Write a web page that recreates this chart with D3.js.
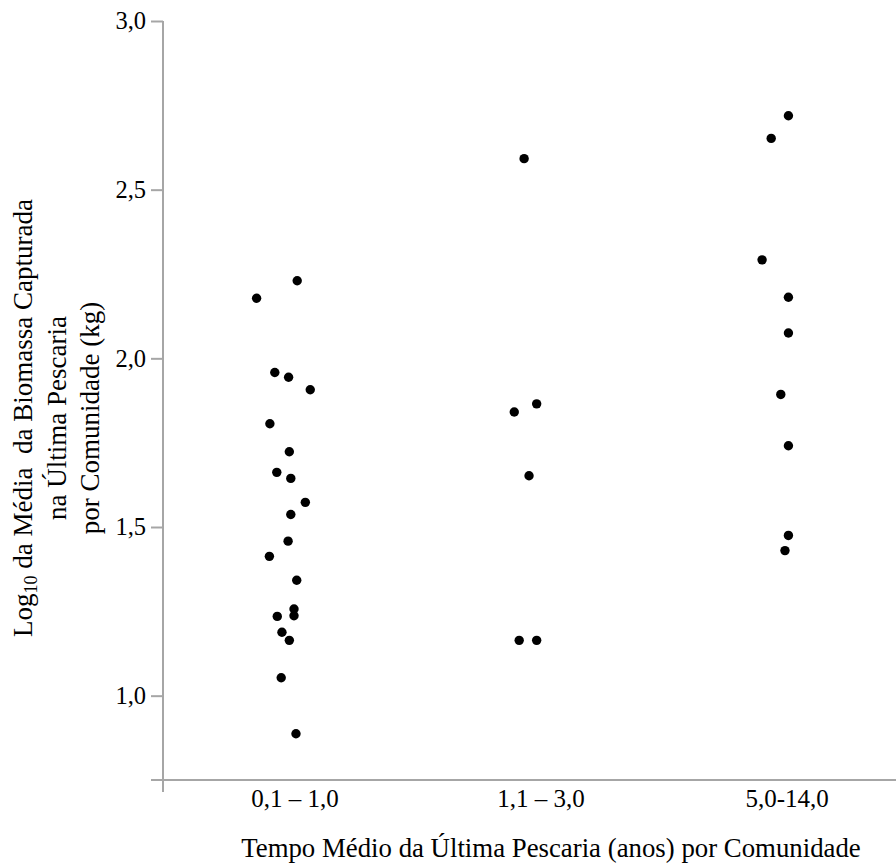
<!DOCTYPE html>
<html>
<head>
<meta charset="utf-8">
<script src="https://cdn.jsdelivr.net/npm/d3@7"></script>
<style>
  body { margin: 0; background: #fff; }
  text { font-family: "Liberation Serif", "DejaVu Serif", serif; fill: #000; }
</style>
</head>
<body>
<div id="chart"></div>
<script>
// categorias do eixo x
var categories = ["0,1 \u2013 1,0", "1,1 \u2013 3,0", "5,0-14,0"];

// log10 da biomassa media por comunidade, por grupo
var group1 = [2.230, 2.178, 1.958, 1.944, 1.907, 1.806, 1.723, 1.662, 1.644, 1.573, 1.537,
              1.458, 1.413, 1.342, 1.257, 1.235, 1.237, 1.188, 1.164, 1.053, 0.887];
var group2 = [2.592, 1.865, 1.841, 1.652, 1.164, 1.164];
var group3 = [2.719, 2.652, 2.292, 2.181, 2.075, 1.893, 1.741, 1.475, 1.430];

// deslocamento horizontal (jitter) de cada ponto, em fracao da categoria
var jitter1 = [0.011, -0.154, -0.080, -0.024, 0.064, -0.100, -0.021, -0.072, -0.015, 0.044, -0.015,
               -0.026, -0.102, 0.009, -0.002, -0.070, -0.002, -0.051, -0.021, -0.054, 0.006];
var jitter2 = [-0.067, -0.016, -0.107, -0.047, -0.087, -0.016];
var jitter3 = [0.007, -0.063, -0.100, 0.007, 0.007, -0.024, 0.007, 0.007, -0.007];

var yTicks = [1.0, 1.5, 2.0, 2.5, 3.0];

var width = 896, height = 866;
var axisColor = "#a6a6a6";

var svg = d3.select("#chart").append("svg")
    .attr("width", width)
    .attr("height", height);

var y = d3.scaleLinear()
    .domain([0.75, 3.0])
    .range([780, 21]);

var x = d3.scalePoint()
    .domain(categories)
    .range([294.5, 786.7]);

var step = x.step();

var points = [];
[group1, group2, group3].forEach(function (vals, gi) {
    var jit = [jitter1, jitter2, jitter3][gi];
    vals.forEach(function (v, i) {
        points.push({ cat: categories[gi], value: v, jitter: jit[i] });
    });
});

// EIXO Y
var yAxis = d3.axisLeft(y)
    .tickValues(yTicks)
    .tickSize(12)
    .tickPadding(5)
    .tickFormat(function (d) { return d3.format(".1f")(d).replace(".", ","); });

var yAxisGroup = svg.append("g")
    .attr("transform", "translate(163,0)")
    .call(yAxis);
yAxisGroup.select(".domain").remove();
yAxisGroup.selectAll(".tick line").attr("stroke", axisColor).attr("stroke-width", 2);
yAxisGroup.selectAll(".tick text")
    .style("font-family", "'Liberation Serif', serif")
    .style("font-size", "24.5px")
    .attr("fill", "#000");

// EIXO X
var xAxis = d3.axisBottom(x)
    .tickSize(0)
    .tickPadding(0);

var xAxisGroup = svg.append("g")
    .attr("transform", "translate(0,780)")
    .call(xAxis);
xAxisGroup.select(".domain").remove();
xAxisGroup.selectAll(".tick text")
    .attr("dy", null)
    .attr("y", 27)
    .style("font-family", "'Liberation Serif', serif")
    .style("font-size", "25px")
    .attr("fill", "#000");

// linhas dos eixos (se cruzam no canto)
svg.append("line")
    .attr("x1", 163).attr("x2", 163)
    .attr("y1", y(3.0)).attr("y2", 792)
    .attr("stroke", axisColor).attr("stroke-width", 2);
svg.append("line")
    .attr("x1", 151).attr("x2", width)
    .attr("y1", 780).attr("y2", 780)
    .attr("stroke", axisColor).attr("stroke-width", 2);

// PONTOS
svg.append("g")
    .selectAll("circle")
    .data(points)
    .enter()
    .append("circle")
    .attr("cx", d => x(d.cat) + d.jitter * step)
    .attr("cy", d => y(d.value))
    .attr("r", 4.7)
    .attr("fill", "#000");

// TITULO X
svg.append("text")
    .attr("x", 551)
    .attr("y", 857)
    .attr("text-anchor", "middle")
    .style("font-size", "26.8px")
    .text("Tempo M\u00e9dio da \u00daltima Pescaria (anos) por Comunidade");

// TITULO Y (tres linhas)
var yTitle = svg.append("text")
    .attr("transform", "translate(0,418) rotate(-90)")
    .attr("text-anchor", "middle")
    .style("font-size", "27px")
    .style("white-space", "pre");

var l1 = yTitle.append("tspan").attr("x", 0).attr("y", 32);
l1.append("tspan").text("Log");
l1.append("tspan").attr("dy", 5).style("font-size", "18px").text("10");
l1.append("tspan").attr("dy", -5).text(" da M\u00e9dia  da Biomassa Capturada");

yTitle.append("tspan").attr("x", 0).attr("y", 66).text("na \u00daltima Pescaria");
yTitle.append("tspan").attr("x", 0).attr("y", 99).text("por Comunidade (kg)");
</script>
</body>
</html>
